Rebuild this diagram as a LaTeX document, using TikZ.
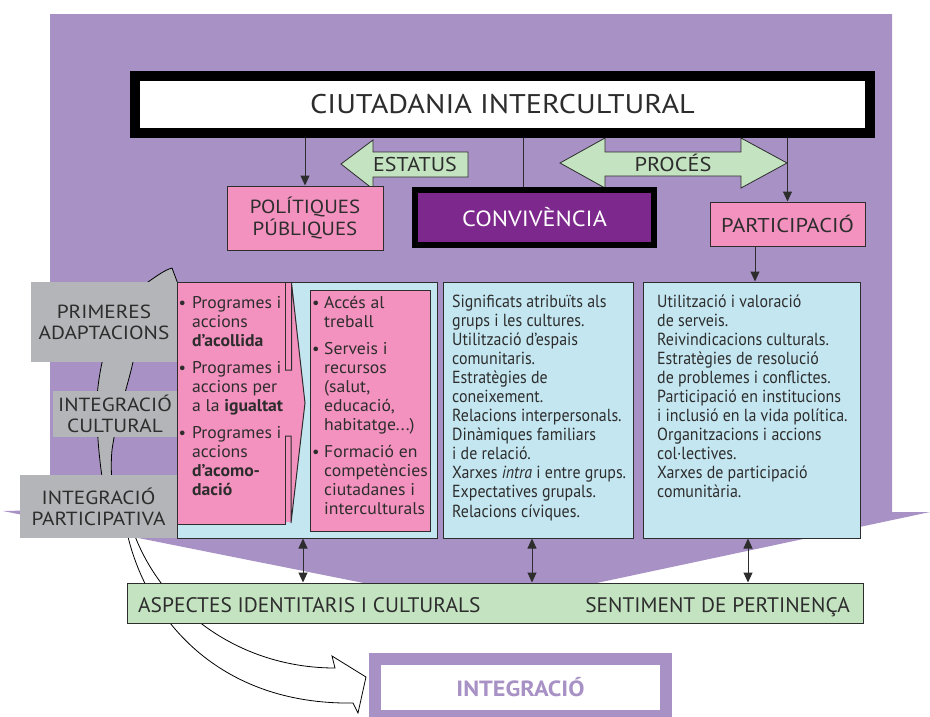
\documentclass[tikz,border=0pt]{standalone}
\usepackage{fontspec}
\setmainfont{PT Sans}
\newfontfamily\condf[FakeStretch=0.91]{PT Sans}
\newfontfamily\pinkf[FakeStretch=1.04]{PT Sans}
\newfontfamily\labf[FakeStretch=1.1]{PT Sans}
\newfontfamily\grayf[FakeStretch=1.12]{PT Sans}
\newfontfamily\titlef[FakeStretch=1.12]{PT Sans}
\newfontfamily\greenf[FakeStretch=1.02]{PT Sans}
\newcommand{\txtlines}[1]{\begin{tabular}[t]{@{}l@{}}#1\end{tabular}}
\usetikzlibrary{arrows.meta}
\definecolor{bgpurple}{RGB}{168,146,197}
\definecolor{pinkc}{RGB}{243,146,190}
\definecolor{bluec}{RGB}{196,230,240}
\definecolor{greenc}{RGB}{196,227,193}
\definecolor{grayc}{RGB}{180,181,184}
\definecolor{darkpurple}{RGB}{125,40,140}
\definecolor{textc}{RGB}{45,45,45}
\tikzset{
  every node/.style={text=textc, inner sep=0pt},
  boxed/.style={draw=textc, line width=1pt},
  pinkbox/.style={boxed, fill=pinkc},
  bluebox/.style={boxed, fill=bluec},
  graybox/.style={fill=grayc, align=center, font=\grayf\fontsize{19}{21}\selectfont},
  conn/.style={draw=textc, line width=1pt},
  arr/.style={conn, -{Triangle[length=10pt,width=9pt]}},
  darr/.style={conn, {Triangle[length=10pt,width=9pt]}-{Triangle[length=10pt,width=9pt]}},
  blocktxt/.style={anchor=base west, font=\condf\fontsize{17.5}{19}\selectfont},
  pinktxt/.style={anchor=base west, font=\pinkf\fontsize{17}{19}\selectfont},
  bul/.style={anchor=base west, font=\fontsize{16.5}{19}\selectfont},
  blockarrow/.style={fill=greenc, draw=textc, line width=0.8pt},
}
\begin{document}
\begin{tikzpicture}[x=1pt,y=-1pt]
\useasboundingbox (0,0) rectangle (930,716);
% background
\fill[bgpurple] (50,14) -- (892,14) -- (892,512) -- (930,512) -- (484,607) -- (3,511) -- (50,510) -- cycle;
% white curved arrow towards INTEGRACIO
\draw[fill=white, line width=0.8pt] (126,528) .. controls (145,620) and (220,705) .. (353,703) -- (358,713) -- (366,677) -- (332,656) -- (335,668) .. controls (240,668) and (160,610) .. (132,528) -- cycle;
% gray crescent arrow
\draw[fill=grayc, line width=0.8pt] (172,268) -- (181,292) -- (150,305) .. controls (140,330) and (136,350) .. (133,362) .. controls (128,385) and (116,420) .. (112,450) .. controls (110,470) and (112,500) .. (120,525) -- (112,525) .. controls (102,490) and (96,440) .. (97,400) .. controls (98,370) and (110,320) .. (128,298) -- (148,282) .. controls (158,275) and (165,270) .. (172,268) -- cycle;
% lower boxes
\node[bluebox, minimum width=260pt, minimum height=256pt] (bl1) at (307,410) {};
\node[bluebox, minimum width=190pt, minimum height=256pt] (bl2) at (538,410) {};
\node[bluebox, minimum width=217pt, minimum height=256pt] (bl3) at (751.5,410) {};
\node[fill=pinkc, minimum width=108pt, minimum height=242pt] (pk1) at (231,403) {};
\fill[pinkc] (284,283) -- (292,283) -- (305,403) -- (291,522) -- (284,522) -- cycle;
\draw[textc, line width=1pt] (285,370) -- (285,282) -- (177,282) -- (177,524) -- (285,524) -- (285,436);
\draw[textc, line width=1pt] (285,370) -- (291.5,370) -- (291.5,283) -- (305,403) -- (291,523) -- (291,436) -- (285,436);
\node[pinkbox, minimum width=120pt, minimum height=241pt] (pk2) at (370,410.5) {};
% gray labels
\node[graybox, minimum width=146pt, minimum height=80pt] (gb1) at (104,322) {PRIMERES\\ADAPTACIONS};
\node[graybox, minimum width=124pt, minimum height=46pt] (gb2) at (115,414) {INTEGRACIÓ\\CULTURAL};
\node[graybox, minimum width=157pt, minimum height=63pt] (gb3) at (98.5,506.5) {INTEGRACIÓ\\PARTICIPATIVA};
% pink box 1 text
\node[bul] (b11) at (178.5,308) {•};
\node[pinktxt] (t11) at (192,308) {\txtlines{Programes i\\accions\\\textbf{d’acollida}}};
\node[bul] (b12) at (178.5,373) {•};
\node[pinktxt] (t12) at (192,373) {\txtlines{Programes i\\accions per\\a la \textbf{igualtat}}};
\node[bul] (b13) at (178.5,438) {•};
\node[pinktxt] (t13) at (192,438) {\txtlines{Programes i\\accions\\\textbf{d’acomo-}\\\textbf{dació}}};
% pink box 2 text
\node[bul] (b21) at (312,308) {•};
\node[pinktxt] (t21) at (324,308) {\txtlines{Accés al\\treball}};
\node[bul] (b22) at (312,354) {•};
\node[pinktxt] (t22) at (324,354) {\txtlines{Serveis i\\recursos\\(salut,\\educació,\\habitatge...)}};
\node[bul] (b23) at (312,457) {•};
\node[pinktxt] (t23) at (324,457) {\txtlines{Formació en\\competències\\ciutadanes i\\interculturals}};
% blue box texts
\node[blocktxt] (t2) at (452,307) {\txtlines{Significats atribuïts als\\grups i les cultures.\\Utilització d’espais\\comunitaris.\\Estratègies de\\coneixement.\\Relacions interpersonals.\\Dinàmiques familiars\\i de relació.\\Xarxes \textit{intra} i entre grups.\\Expectatives grupals.\\[1.5pt]Relacions cíviques.}};
\node[blocktxt] (t3) at (657,307) {\txtlines{Utilització i valoració\\de serveis.\\Reivindicacions culturals.\\Estratègies de resolució\\de problemes i conflictes.\\Participació en institucions\\i inclusió en la vida política.\\Organitzacions i accions\\col·lectives.\\Xarxes de participació\\comunitària.}};
% top
\node[draw=black, fill=white, line width=10pt, minimum width=735pt, minimum height=57pt, font=\titlef\fontsize{27}{27}\selectfont] (ciut) at (502.5,104.5) {CIUTADANIA INTERCULTURAL};
\path[blockarrow] (341,164) -- (373,140) -- (373,152) -- (468,152) -- (468,177) -- (373,177) -- (373,189) -- cycle;
\node[font=\labf\fontsize{20}{20}\selectfont] (estatus) at (415,164) {ESTATUS};
\path[blockarrow] (560,163) -- (605,138) -- (605,152) -- (741,152) -- (741,138) -- (787,163) -- (741,188) -- (741,176) -- (605,176) -- (605,188) -- cycle;
\node[font=\grayf\fontsize{20}{20}\selectfont] (proces) at (673,163) {PROCÉS};
\node[pinkbox, minimum width=156pt, minimum height=64pt, align=center, font=\labf\fontsize{19}{22}\selectfont] (pol) at (305,218) {POLÍTIQUES\\PÚBLIQUES};
\node[draw=black, fill=darkpurple, line width=6pt, minimum width=239pt, minimum height=55pt, text=white, font=\labf\fontsize{22}{22}\selectfont] (conv) at (534.5,217.5) {CONVIVÈNCIA};
\node[pinkbox, minimum width=155pt, minimum height=44pt, font=\grayf\fontsize{20}{20}\selectfont] (part) at (787.5,224) {PARTICIPACIÓ};
\draw[arr] (ciut.south -| pol.north) -- (pol.north);
\draw[conn] ([xshift=-11.5pt]conv.north |- ciut.south) -- ([xshift=-11.5pt]conv.north);
\draw[arr] (ciut.south -| part.north) -- (part.north);
\draw[arr] ([xshift=3.5pt]part.south -| bl3.north) -- ([xshift=3.5pt]bl3.north);
% bottom
\node[bluebox, fill=greenc, minimum width=736pt, minimum height=40pt] (green) at (495,603) {};
\node[anchor=base west, font=\greenf\fontsize{21}{21}\selectfont] (asp) at (138,612) {ASPECTES IDENTITARIS I CULTURALS};
\node[anchor=base east, font=\greenf\fontsize{21}{21}\selectfont] (sent) at (850,612) {SENTIMENT DE PERTINENÇA};
\draw[darr] ([xshift=-4pt]bl1.south) -- ([xshift=-4pt]bl1.south |- green.north);
\draw[darr] ([xshift=-6pt]bl2.south) -- ([xshift=-6pt]bl2.south |- green.north);
\draw[darr] ([xshift=-3.5pt]bl3.south) -- ([xshift=-3.5pt]bl3.south |- green.north);
\node[draw=bgpurple, fill=white, line width=12pt, minimum width=291pt, minimum height=57pt, text=bgpurple, font=\labf\bfseries\fontsize{22}{22}\selectfont] (integ) at (520.5,687.5) {INTEGRACIÓ};
\end{tikzpicture}
\end{document}
